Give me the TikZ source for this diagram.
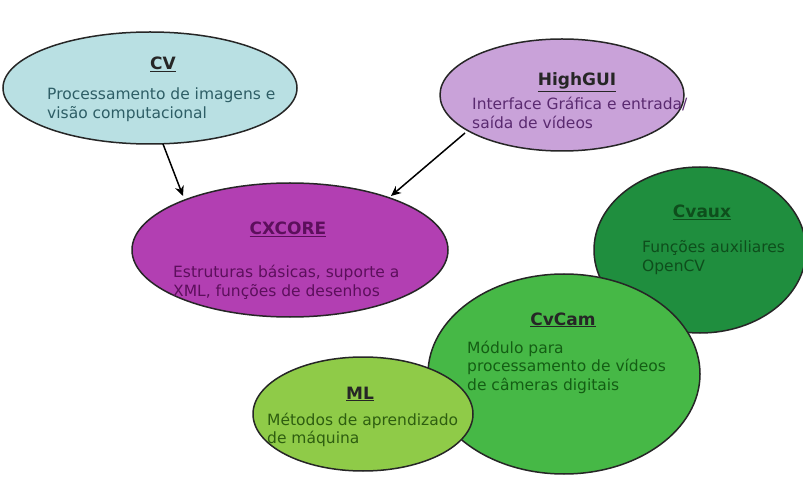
\documentclass[tikz,border=0pt]{standalone}
\usepackage{fontspec}
\setmainfont{DejaVu Sans}
\usetikzlibrary{shapes.geometric,arrows.meta}
\definecolor{cvfill}{HTML}{B9E0E3}
\definecolor{cvtext}{HTML}{2E5E66}
\definecolor{hgfill}{HTML}{C9A2D9}
\definecolor{hgtext}{HTML}{5A2A70}
\definecolor{cxfill}{HTML}{B23FB2}
\definecolor{cxtext}{HTML}{5C0F5C}
\definecolor{auxfill}{HTML}{1F8E3E}
\definecolor{auxtext}{HTML}{0E4E1C}
\definecolor{camfill}{HTML}{46B846}
\definecolor{camtext}{HTML}{145E14}
\definecolor{mlfill}{HTML}{8FCB48}
\definecolor{mltext}{HTML}{2E5E10}
% several left-aligned lines whose baseline is that of the first line
\newcommand\lines[1]{\begin{tabular}[t]{@{}l@{}}#1\end{tabular}}
\tikzset{
  blob/.style={ellipse, draw=black!85, line width=1.5pt, inner sep=0pt},
  ttl/.style={font=\fontsize{17}{20}\selectfont\bfseries, anchor=base, inner sep=0pt},
  body/.style={font=\fontsize{15.5}{18.5}\selectfont, anchor=base west, inner sep=0pt},
  link/.style={-{Stealth[length=10pt,width=9pt]}, line width=1.5pt, black}
}
\begin{document}
\begin{tikzpicture}[x=1pt,y=-1pt]
\useasboundingbox (0,0) rectangle (803,486);
\fill[white] (0,0) rectangle (803,486);
% module ellipses
\node[blob, fill=cvfill, minimum width=294pt, minimum height=112pt] (cv) at (150,88) {};
\node[blob, fill=hgfill, minimum width=244pt, minimum height=112pt] (hg) at (562,95) {};
\node[blob, fill=cxfill, minimum width=316pt, minimum height=134pt] (cx) at (290,250) {};
\node[blob, fill=auxfill, minimum width=212pt, minimum height=166pt] (aux) at (700,250) {};
\node[blob, fill=camfill, minimum width=272pt, minimum height=200pt] (cam) at (564,374) {};
\node[blob, fill=mlfill, minimum width=220pt, minimum height=114pt] (ml) at (363,414) {};
% labels
\node[ttl, text=black!85] (cvt) at (163,70) {\underline{CV}};
\node[body, text=cvtext] (cvb) at (47,100) {\lines{Processamento de imagens e\\visão computacional}};
\node[ttl, text=black!85] (hgt) at (577,86) {\underline{HighGUI}};
\node[body, text=hgtext] (hgb) at (472,110) {\lines{Interface Gráfica e entrada/\\saída de vídeos}};
\node[ttl, text=cxtext] (cxt) at (288,235) {\underline{CXCORE}};
\node[body, text=cxtext] (cxb) at (173,278) {\lines{Estruturas básicas, suporte a\\XML, funções de desenhos}};
\node[ttl, text=auxtext] (auxt) at (702,218) {\underline{Cvaux}};
\node[body, text=auxtext] (auxb) at (642,253) {\lines{Funções auxiliares\\OpenCV}};
\node[ttl, text=black!85] (camt) at (563,325) {\underline{CvCam}};
\node[body, text=camtext] (camb) at (467,353) {\lines{Módulo para\\processamento de vídeos\\de câmeras digitais}};
\node[ttl, text=black!85] (mlt) at (360,399) {\underline{ML}};
\node[body, text=mltext] (mlb) at (267,425) {\lines{Métodos de aprendizado\\de máquina}};
% dependencies on the core
\coordinate (cvs) at (163,144);
\coordinate (cxl) at (183,196);
\coordinate (hgs) at (465,133);
\coordinate (cxr) at (391,196);
\draw[link] (cvs) -- (cxl);
\draw[link] (hgs) -- (cxr);
\end{tikzpicture}
\end{document}
